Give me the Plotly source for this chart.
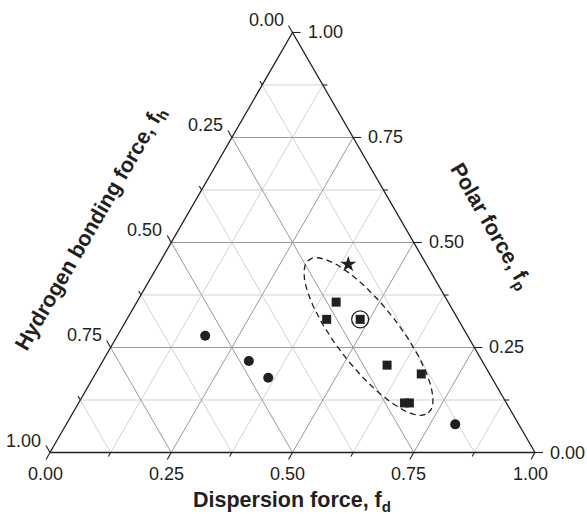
import math
import plotly.graph_objects as go

# ---- data (ternary fractions: f_d = dispersion, f_p = polar, f_h = 1 - f_d - f_p) ----
circle_fd = [0.181, 0.301, 0.361, 0.802]
circle_fp = [0.278, 0.218, 0.178, 0.067]

square_fd = [0.411, 0.412, 0.481, 0.591, 0.672, 0.672, 0.682]
square_fp = [0.358, 0.317, 0.317, 0.208, 0.187, 0.118, 0.118]

star_fd = [0.391]
star_fp = [0.448]

highlight_fd = [0.481]
highlight_fp = [0.317]

# ellipse annotation (centre in ternary fractions, axes as fraction of side length)
ellipse_center_fd = 0.5186
ellipse_center_fp = 0.2762
ellipse_semi_major = 0.200
ellipse_semi_minor = 0.064
ellipse_angle_deg = -52.0

tick_vals = [0.0, 0.25, 0.5, 0.75, 1.0]
tick_text = ["0.00", "0.25", "0.50", "0.75", "1.00"]

INK = "#231f20"
FONT = "Arial, Liberation Sans, Helvetica, sans-serif"
S3 = math.sqrt(3) / 2
PX = 485.0  # pixels per unit side length


def to_xy(fd, fp):
    return fd + fp / 2.0, fp * S3


def pts(fds, fps):
    xs, ys = [], []
    for a, b in zip(fds, fps):
        x, y = to_xy(a, b)
        xs.append(x)
        ys.append(y)
    return xs, ys


fig = go.Figure()

# ---- grid ----
def grid_trace(levels, color):
    xs, ys = [], []
    for v in levels:
        for (a0, b0), (a1, b1) in [
            ((0, v), (1 - v, v)),        # constant f_p
            ((v, 0), (v, 1 - v)),        # constant f_d
            ((1 - v, 0), (0, 1 - v)),    # constant f_h
        ]:
            x0, y0 = to_xy(a0, b0)
            x1, y1 = to_xy(a1, b1)
            xs += [x0, x1, None]
            ys += [y0, y1, None]
    return go.Scatter(x=xs, y=ys, mode="lines", line=dict(color=color, width=1),
                      hoverinfo="skip", showlegend=False)


minor_levels = [k / 8 for k in (1, 3, 5, 7)]
major_levels = [k / 8 for k in (2, 4, 6)]
fig.add_trace(grid_trace(minor_levels, "#d2d2d2"))
fig.add_trace(grid_trace(major_levels, "#9a9a9a"))

# ---- triangle edges ----
ex, ey = pts([0, 1, 0, 0], [0, 0, 1, 0])
fig.add_trace(go.Scatter(x=ex, y=ey, mode="lines", line=dict(color=INK, width=1.3),
                         hoverinfo="skip", showlegend=False))

# ---- ticks ----
tx, ty = [], []
for k in range(9):
    v = k / 8
    L = (8.0 if k % 2 == 0 else 4.5) / PX
    # bottom (f_d)
    x0, y0 = to_xy(v, 0)
    tx += [x0, x0 - 0.5 * L, None]
    ty += [y0, y0 - S3 * L, None]
    # right (f_p)
    x0, y0 = to_xy(1 - v, v)
    tx += [x0, x0 + L, None]
    ty += [y0, y0, None]
    # left (f_h)
    x0, y0 = to_xy(0, 1 - v)
    tx += [x0, x0 - 0.5 * L, None]
    ty += [y0, y0 + S3 * L, None]
fig.add_trace(go.Scatter(x=tx, y=ty, mode="lines", line=dict(color=INK, width=1.1),
                         hoverinfo="skip", showlegend=False))

# ---- ellipse (dashed) ----
cx, cy = to_xy(ellipse_center_fd, ellipse_center_fp)
th = math.radians(ellipse_angle_deg)
elx, ely = [], []
for i in range(241):
    t = 2 * math.pi * i / 240
    u = ellipse_semi_major * math.cos(t)
    w = ellipse_semi_minor * math.sin(t)
    elx.append(cx + u * math.cos(th) - w * math.sin(th))
    ely.append(cy + u * math.sin(th) + w * math.cos(th))
fig.add_trace(go.Scatter(x=elx, y=ely, mode="lines",
                         line=dict(color=INK, width=1.3, dash="6px,4px"),
                         hoverinfo="skip", showlegend=False))

# ---- markers ----
x, y = pts(circle_fd, circle_fp)
fig.add_trace(go.Scatter(x=x, y=y, mode="markers", showlegend=False,
                         marker=dict(symbol="circle", size=10, color=INK)))
x, y = pts(square_fd, square_fp)
fig.add_trace(go.Scatter(x=x, y=y, mode="markers", showlegend=False,
                         marker=dict(symbol="square", size=9, color=INK)))
x, y = pts(star_fd, star_fp)
fig.add_trace(go.Scatter(x=x, y=y, mode="markers", showlegend=False,
                         marker=dict(symbol="star", size=12, color=INK)))
x, y = pts(highlight_fd, highlight_fp)
fig.add_trace(go.Scatter(x=x, y=y, mode="markers", showlegend=False,
                         marker=dict(symbol="circle-open", size=17, color=INK,
                                     line=dict(color=INK, width=1.3))))

# ---- tick labels ----
ann = []
tf = dict(family=FONT, size=18, color=INK)
for v, t in zip(tick_vals, tick_text):
    bx, by = to_xy(v, 0)
    ann.append(dict(x=bx, y=by, text=t, showarrow=False, xanchor="center", yanchor="middle",
                    xshift=-5, yshift=-21, font=tf))
    rx, ry = to_xy(1 - v, v)
    ann.append(dict(x=rx, y=ry, text=t, showarrow=False, xanchor="left", yanchor="middle",
                    xshift=13, yshift=0, font=tf))
    lx, ly = to_xy(0, 1 - v)
    ann.append(dict(x=lx, y=ly, text=t, showarrow=False, xanchor="right", yanchor="middle",
                    xshift=-7, yshift=12, font=tf))

# ---- axis titles ----
ttf = dict(family=FONT, size=21.5, color=INK)
ann.append(dict(xref="paper", yref="paper", x=291.7 / 587, y=1 - 501 / 514,
                text="<b>Dispersion force, f<sub>d</sub></b>", showarrow=False,
                xanchor="center", yanchor="middle", font=ttf))
ann.append(dict(xref="paper", yref="paper", x=92 / 587, y=1 - 229 / 514,
                text="<b>Hydrogen bonding force, f<sub>h</sub></b>", showarrow=False,
                xanchor="center", yanchor="middle", textangle=-60, font=ttf))
ann.append(dict(xref="paper", yref="paper", x=490 / 587, y=1 - 226 / 514,
                text="<b>Polar force, f<sub>p</sub></b>", showarrow=False,
                xanchor="center", yanchor="middle", textangle=60, font=ttf))

fig.update_layout(
    width=587, height=514,
    margin=dict(l=0, r=0, t=0, b=0),
    paper_bgcolor="white", plot_bgcolor="white",
    xaxis=dict(range=[-50 / PX, 537 / PX], visible=False, fixedrange=True),
    yaxis=dict(range=[-(514 - 452.5) / PX, 452.5 / PX], visible=False, fixedrange=True),
    annotations=ann,
    showlegend=False,
)

fig.write_html(
    "out.html",
    config={"displayModeBar": False},
    post_script="document.body.style.margin='0';document.body.style.overflow='hidden';",
)
